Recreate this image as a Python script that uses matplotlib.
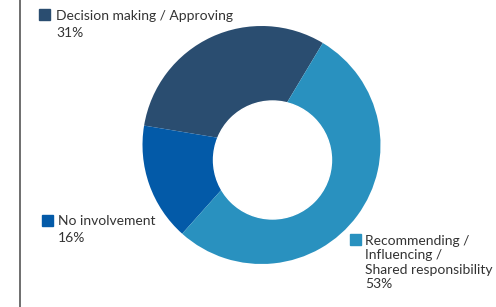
import matplotlib
matplotlib.use('Agg')
import matplotlib.pyplot as plt
from matplotlib.patches import Circle, Rectangle

# datos del gráfico
etiquetas = [['Decision making / Approving'],
             ['No involvement'],
             ['Recommending /', 'Influencing /', 'Shared responsibility']]
valores = [31, 16, 53]
colores = ['#2a4d70', '#035aa8', '#2991bf']

W, H = 496, 307
fig = plt.figure(figsize=(W / 100, H / 100), dpi=100)

# línea vertical a la izquierda
fig.add_artist(plt.Line2D([19.5 / W, 19.5 / W], [0, 1], color='#555555', lw=1.2))

# donut
cx, cy, r = 261.5, 145, 119
ax = fig.add_axes([(cx - r) / W, (H - cy - r) / H, 2 * r / W, 2 * r / H])
ax.pie(valores, colors=colores, startangle=59, counterclock=True, radius=1,
       wedgeprops={'linewidth': 0})
# agujero central (ligeramente desplazado como en el original)
ax.add_patch(Circle((11 / r, -15 / r), 59 / r, color='white', zorder=5))
ax.set_xlim(-1, 1)
ax.set_ylim(-1, 1)
ax.axis('off')

# etiquetas con cuadrado: (x cuadro, y cuadro, x texto, baseline 1a línea, paso, baseline %)
posiciones = [(39, 9, 56, 19.5, 14.3, 37),
              (42, 215, 58, 225, 14.3, 242),
              (350, 234, 365, 245, 14.3, 288)]
for (xs, ys, xt, yb, paso, yp), lineas, val, col in zip(posiciones, etiquetas, valores, colores):
    fig.add_artist(Rectangle((xs / W, 1 - (ys + 10.5) / H), 10.5 / W, 10.5 / H,
                             transform=fig.transFigure, color=col))
    for i, linea in enumerate(lineas):
        fig.text(xt / W, 1 - (yb + i * paso) / H, linea, fontsize=10,
                 family='Lato', color='#333333', va='baseline', ha='left')
    fig.text(xt / W, 1 - yp / H, f'{val}%', fontsize=10,
             family='Lato', color='#333333', va='baseline', ha='left')

fig.savefig('out.png', dpi=100)
